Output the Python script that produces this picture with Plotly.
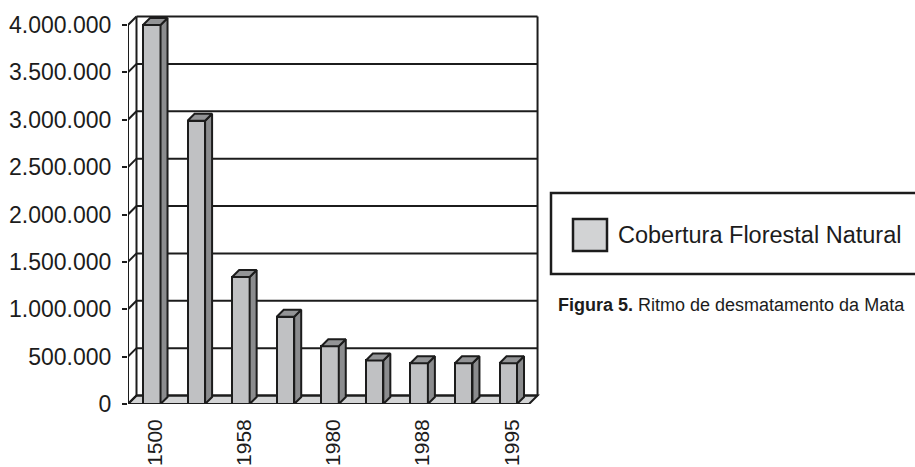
import plotly.graph_objects as go

# Natural forest cover by year (Mata Atlântica)
years = ["1500", "1912", "1958", "1970", "1980", "1985", "1988", "1990", "1995"]
cobertura = [4000000, 2990000, 1340000, 920000, 610000, 460000, 430000, 430000, 430000]
shown_years = years[::2]
y_ticks = [0, 500000, 1000000, 1500000, 2000000, 2500000, 3000000, 3500000, 4000000]

# ---- page geometry (pixels) ----
W, H = 915, 467
L, R, T, B = 128, 540, 10, 404          # plot area
CAT_PX = 44.56                          # width of one category
Y_PX_PER_UNIT = 379 / 4000000           # vertical scale
WALL_D = 8.5                            # depth of the walls/floor (px)
BAR_D = 7.0                             # depth of each column (px)
BAR_W = 17.5                            # column face width (px)
BAR_SHIFT = 1.5                         # columns sit slightly right of centre

n = len(years)
x_max = (R - L) / CAT_PX
y_max = (B - T) / Y_PX_PER_UNIT

def dx(px):
    return px / CAT_PX

def dy(px):
    return px / Y_PX_PER_UNIT

def paper_x(px):
    return (px - L) / (R - L)

def paper_y(py):
    return (B - py) / (B - T)

INK = "#1c1c1c"
FRONT = "#c0c1c3"
SIDE = "#8b8c8e"
TOP = "#939496"
FLOOR = "#d3d4d5"
FONT = "Liberation Sans, Arial, Helvetica, sans-serif"

fig = go.Figure()

# front faces of the columns
centers = [i + 0.5 + dx(BAR_SHIFT) for i in range(n)]
fig.add_trace(go.Bar(
    x=centers, y=cobertura, width=dx(BAR_W),
    marker=dict(color=FRONT, line=dict(color=INK, width=2)),
    showlegend=False, hoverinfo="skip",
))

# side and top faces
hw = dx(BAR_W) / 2
bdx, bdy = dx(BAR_D), dy(BAR_D)
for c, v in zip(centers, cobertura):
    fig.add_trace(go.Scatter(
        x=[c + hw, c + hw + bdx, c + hw + bdx, c + hw, c + hw],
        y=[0, bdy, v + bdy, v, 0],
        mode="lines", fill="toself", fillcolor=SIDE,
        line=dict(color=INK, width=2), showlegend=False, hoverinfo="skip",
    ))
    fig.add_trace(go.Scatter(
        x=[c - hw, c + hw, c + hw + bdx, c - hw + bdx, c - hw],
        y=[v, v, v + bdy, v + bdy, v],
        mode="lines", fill="toself", fillcolor=TOP,
        line=dict(color=INK, width=2), showlegend=False, hoverinfo="skip",
    ))

# walls, floor and gridlines
wdx, wdy = dx(WALL_D), dy(WALL_D)
top_v = y_ticks[-1]
shapes = []
# floor
shapes.append(dict(
    type="path", xref="x", yref="y", layer="below",
    path=f"M 0 0 L {n} 0 L {n + wdx} {wdy} L {wdx} {wdy} Z",
    fillcolor=FLOOR, line=dict(color=INK, width=2),
))
# back wall gridlines + left wall diagonals
for v in y_ticks:
    shapes.append(dict(type="line", xref="x", yref="y", layer="below",
                       x0=0, y0=v, x1=wdx, y1=v + wdy,
                       line=dict(color=INK, width=2)))
    shapes.append(dict(type="line", xref="x", yref="y", layer="below",
                       x0=wdx, y0=v + wdy, x1=n + wdx, y1=v + wdy,
                       line=dict(color=INK, width=2)))
# verticals: front axis, back-left and back-right edges
for x0, y0 in [(0, 0), (wdx, wdy), (n + wdx, wdy)]:
    shapes.append(dict(type="line", xref="x", yref="y", layer="below",
                       x0=x0, y0=y0, x1=x0, y1=top_v + (y0 if x0 else 0),
                       line=dict(color=INK, width=2)))

# legend box
shapes.append(dict(type="rect", xref="paper", yref="paper",
                   x0=paper_x(551), x1=paper_x(940), y0=paper_y(274), y1=paper_y(193),
                   fillcolor="rgba(0,0,0,0)", line=dict(color=INK, width=2.5)))
shapes.append(dict(type="rect", xref="paper", yref="paper",
                   x0=paper_x(573), x1=paper_x(607), y0=paper_y(251), y1=paper_y(219),
                   fillcolor="#d2d3d4", line=dict(color=INK, width=2.5)))

annotations = [
    dict(xref="paper", yref="paper", x=paper_x(616), y=paper_y(235),
         xanchor="left", yanchor="middle", showarrow=False,
         text="Cobertura Florestal Natural",
         font=dict(family=FONT, size=23.5, color=INK)),
    dict(xref="paper", yref="paper", x=paper_x(556), y=paper_y(305),
         xanchor="left", yanchor="middle", showarrow=False,
         text="<b>Figura 5.</b> Ritmo de desmatamento da Mata",
         font=dict(family=FONT, size=18, color=INK)),
]

fig.update_layout(
    template="none",
    width=W, height=H,
    margin=dict(l=L, r=W - R, t=T, b=H - B),
    paper_bgcolor="white", plot_bgcolor="rgba(0,0,0,0)",
    separators=",.",
    shapes=shapes, annotations=annotations,
    showlegend=False, bargap=0,
    xaxis=dict(
        range=[0, x_max], tickmode="array", automargin=False,
        tickvals=[i + 0.5 for i in range(0, n, 2)], ticktext=shown_years,
        tickangle=-90, ticks="", showgrid=False, zeroline=False, showline=False,
        tickfont=dict(family=FONT, size=21, color=INK),
        ticklabelstandoff=10, ticklabelshift=5,
        fixedrange=True,
    ),
    xaxis2=dict(
        range=[0, x_max], overlaying="x", anchor="y", side="bottom", automargin=False,
        tickmode="array", tickvals=list(range(n + 1)),
        ticks="outside", ticklen=5, tickwidth=2, tickcolor=INK,
        showticklabels=False, showgrid=False, zeroline=False, showline=False,
    ),
    yaxis=dict(
        range=[0, y_max], tickmode="array", tickvals=y_ticks, tickformat=",d",
        automargin=False,
        ticks="outside", ticklen=5, tickwidth=2, tickcolor=INK,
        showgrid=False, zeroline=False, showline=False,
        tickfont=dict(family=FONT, size=23, color=INK), ticklabelstandoff=6,
        fixedrange=True,
    ),
)

fig.write_html("out.html")
